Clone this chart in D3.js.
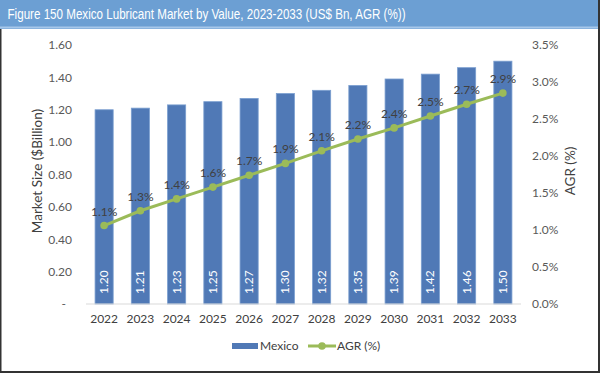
<!DOCTYPE html>
<html><head><meta charset="utf-8">
<script src="https://cdn.jsdelivr.net/npm/d3@7"></script>
<style>body{margin:0;background:#fff}svg{display:block}</style>
</head><body>
<script>
const years = ["2022","2023","2024","2025","2026","2027","2028","2029","2030","2031","2032","2033"];
const marketValues = [1.20,1.21,1.23,1.25,1.27,1.30,1.32,1.35,1.39,1.42,1.46,1.50];
const agrValues = [1.06,1.26,1.42,1.58,1.74,1.90,2.07,2.23,2.38,2.54,2.70,2.85];
const agrLabels = ["1.1%","1.3%","1.4%","1.6%","1.7%","1.9%","2.1%","2.2%","2.4%","2.5%","2.7%","2.9%"];
const leftTicks = [0,0.2,0.4,0.6,0.8,1.0,1.2,1.4,1.6];
const rightTicks = [0,0.5,1.0,1.5,2.0,2.5,3.0,3.5];
const title = "Figure 150 Mexico Lubricant Market by Value, 2023-2033 (US$ Bn, AGR (%))";

const W=600,H=373;
const svg=d3.select("body").append("svg").attr("width",W).attr("height",H);
const font="'Liberation Sans', Arial, sans-serif";
const cfont="Lato, Carlito, Calibri, sans-serif";

svg.append("rect").attr("x",0).attr("y",0).attr("width",W).attr("height",H).attr("fill","#fff");
// title bar
svg.append("rect").attr("x",0).attr("y",0).attr("width",W).attr("height",29).attr("fill","#6c9fd3");
svg.append("rect").attr("x",0).attr("y",26.5).attr("width",W).attr("height",2).attr("fill","#a7c8ea");
svg.append("text").attr("x",7.5).attr("y",19).attr("fill","#fff").attr("font-family",font).attr("font-size",14.2)
 .attr("textLength",398).attr("lengthAdjust","spacingAndGlyphs").text(title);
// frame
svg.append("rect").attr("x",0).attr("y",29).attr("width",1.5).attr("height",H-29).attr("fill","#333");
svg.append("rect").attr("x",W-2).attr("y",0).attr("width",2).attr("height",H).attr("fill","#333");
svg.append("rect").attr("x",0).attr("y",H-2).attr("width",W).attr("height",2).attr("fill","#333");

const x=d3.scaleBand().domain(years).range([86,521]).paddingInner(0.5).paddingOuter(0.25);
const yL=d3.scaleLinear().domain([0,1.6]).range([304,45]);
const yR=d3.scaleLinear().domain([0,3.5]).range([304,45]);

// bars
svg.append("g").selectAll("rect").data(marketValues).join("rect")
 .attr("x",(d,i)=>x(years[i])).attr("width",x.bandwidth())
 .attr("y",d=>yL(d)).attr("height",d=>yL(0)-yL(d))
 .attr("fill","#5079b6").attr("stroke","#7b9fd0").attr("stroke-width",0.8);

// axis line
svg.append("line").attr("x1",86).attr("x2",521).attr("y1",304).attr("y2",304).attr("stroke","#d9d9d9").attr("stroke-width",1);

// left axis
const gl=svg.append("g").attr("transform","translate(72,0)")
 .call(d3.axisLeft(yL).tickValues(leftTicks).tickSize(0).tickPadding(0).tickFormat(d=>d===0?"-":d3.format(".2f")(d)));
gl.select(".domain").remove();
gl.selectAll("text").attr("font-family",cfont).attr("font-size",12).attr("fill","#595959");
gl.selectAll(".tick").filter(d=>d===0).select("text").attr("dx",-6);

// right axis
const gr=svg.append("g").attr("transform","translate(532,0)")
 .call(d3.axisRight(yR).tickValues(rightTicks).tickSize(0).tickPadding(0).tickFormat(d=>d3.format(".1f")(d)+"%"));
gr.select(".domain").remove();
gr.selectAll("text").attr("font-family",cfont).attr("font-size",12).attr("fill","#595959");

// bottom axis
const gb=svg.append("g").attr("transform","translate(0,304)")
 .call(d3.axisBottom(x).tickSize(0).tickPadding(10));
gb.select(".domain").remove();
gb.selectAll("text").attr("font-family",cfont).attr("font-size",12).attr("fill","#404040");

// axis titles
svg.append("text").attr("transform","translate(42,171) rotate(-90)").attr("text-anchor","middle")
 .attr("font-family",cfont).attr("font-size",13.5).attr("fill","#404040").text("Market Size ($Billion)");
svg.append("text").attr("transform","translate(575,171) rotate(-90)").attr("text-anchor","middle")
 .attr("font-family",cfont).attr("font-size",13.5).attr("fill","#404040").text("AGR (%)");

// bar labels
svg.append("g").selectAll("text").data(marketValues).join("text")
 .attr("transform",(d,i)=>`translate(${x(years[i])+x.bandwidth()/2+4},${yL(0)-10}) rotate(-90)`)
 .attr("font-family",cfont).attr("font-size",12).attr("fill","#fff").text(d=>d3.format(".2f")(d));

// line
const cx=i=>x(years[i])+x.bandwidth()/2;
svg.append("path").datum(agrValues)
 .attr("d",d3.line().x((d,i)=>cx(i)).y(d=>yR(d)))
 .attr("fill","none").attr("stroke","#9bbb59").attr("stroke-width",3);
svg.append("g").selectAll("circle").data(agrValues).join("circle")
 .attr("cx",(d,i)=>cx(i)).attr("cy",d=>yR(d)).attr("r",3.8).attr("fill","#9bbb59");
svg.append("g").selectAll("text").data(agrValues).join("text")
 .attr("x",(d,i)=>cx(i)).attr("y",d=>yR(d)-10).attr("text-anchor","middle")
 .attr("font-family",cfont).attr("font-size",12).attr("fill","#404040").text((d,i)=>agrLabels[i]);

// legend
svg.append("rect").attr("x",232).attr("y",343).attr("width",26).attr("height",6).attr("fill","#5079b6");
svg.append("text").attr("x",260).attr("y",350).attr("font-family",cfont).attr("font-size",12).attr("fill","#404040").text("Mexico");
svg.append("line").attr("x1",308).attr("x2",336).attr("y1",346).attr("y2",346).attr("stroke","#9bbb59").attr("stroke-width",3);
svg.append("circle").attr("cx",322).attr("cy",346).attr("r",3.8).attr("fill","#9bbb59");
svg.append("text").attr("x",337).attr("y",350).attr("font-family",cfont).attr("font-size",12).attr("fill","#404040").text("AGR (%)");
</script>
</body></html>
